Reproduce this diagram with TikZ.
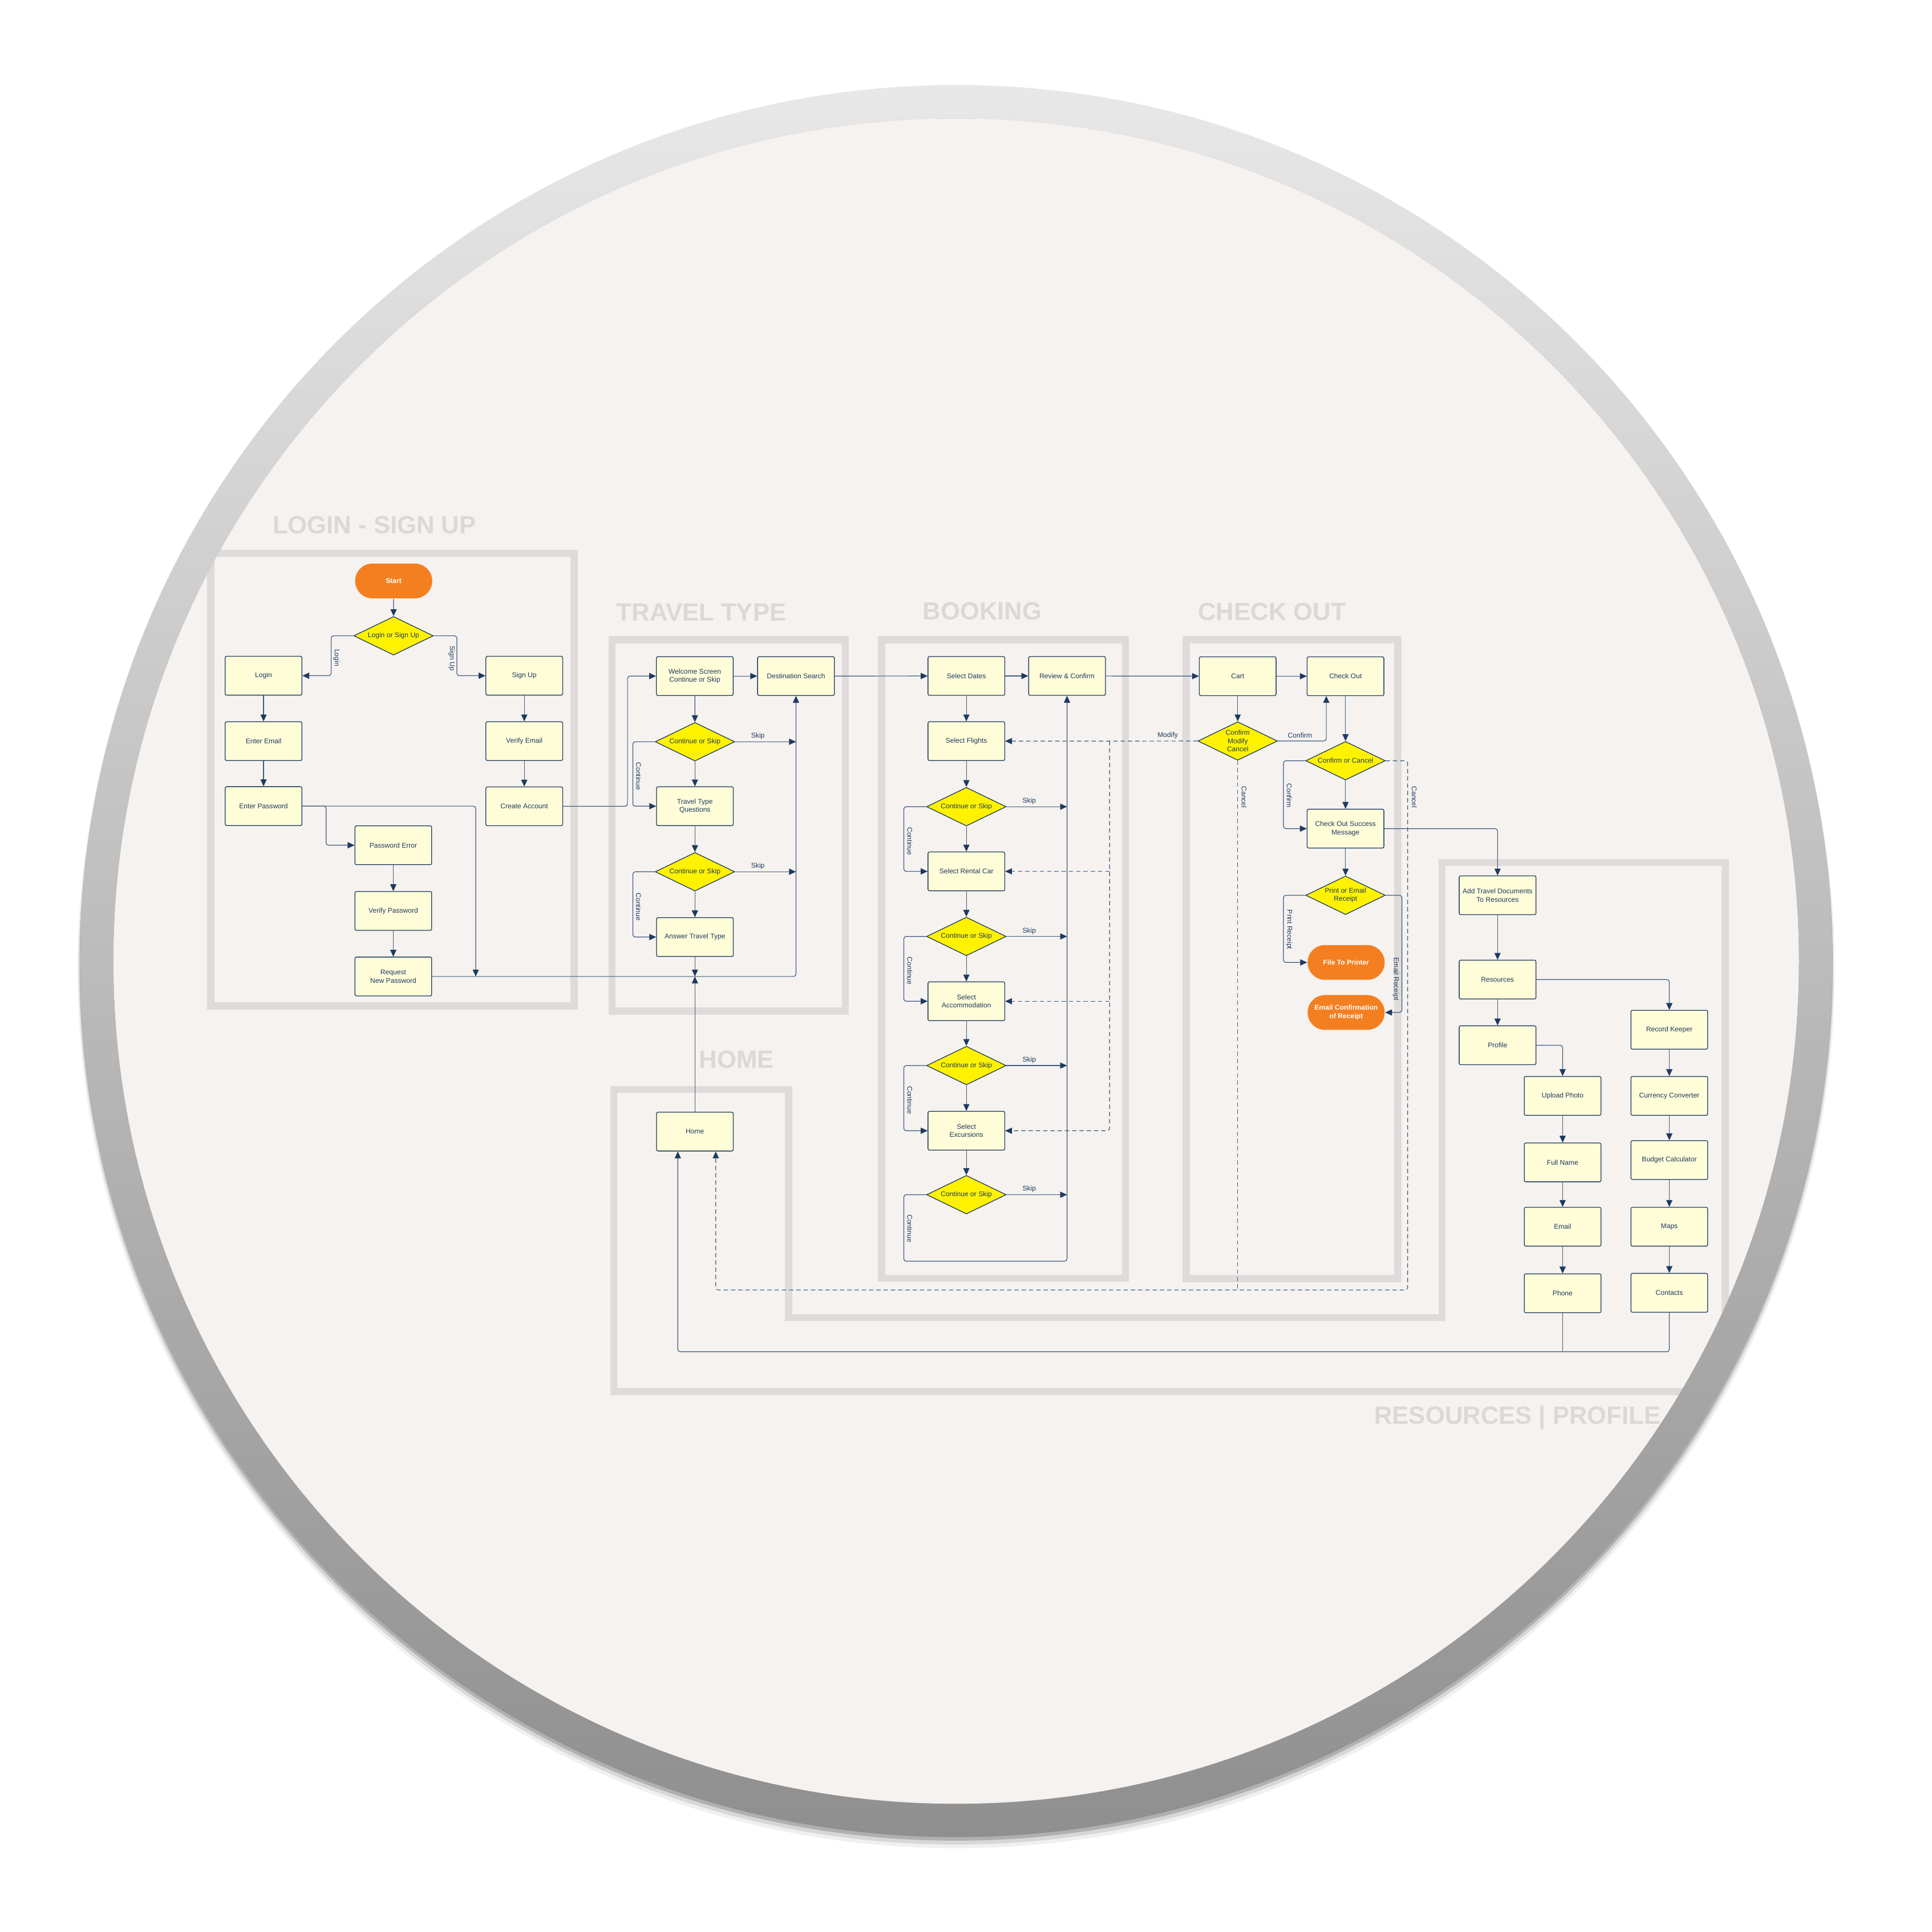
\documentclass[tikz,border=0pt]{standalone}
\usepackage{fontspec}
\setmainfont{Liberation Sans}
\usetikzlibrary{shapes.geometric,arrows.meta}
\definecolor{bginner}{HTML}{F5F2EF}
\definecolor{framec}{HTML}{DFDBDA}
\definecolor{titlec}{HTML}{DCD8D7}
\definecolor{boxf}{HTML}{FFFCD8}
\definecolor{diaf}{HTML}{FFF200}
\definecolor{navy}{HTML}{1F3A60}
\definecolor{linec}{HTML}{3D5A80}
\definecolor{orangec}{HTML}{F47F20}
\definecolor{ringtop}{HTML}{E8E8E8}
\definecolor{ringbot}{HTML}{8F8F8F}
\newcommand{\boxtxt}{\fontsize{2.8pt}{3.35pt}\selectfont}
\newcommand{\ttltxt}{\fontsize{10.1pt}{12pt}\selectfont\bfseries}
\begin{document}
\begin{tikzpicture}[x=0.5pt,y=-0.5pt,
 box/.style={draw=navy, fill=boxf, line width=0.3pt, rounded corners=0.6pt, minimum width=31.15pt, minimum height=15.75pt, inner sep=0pt, align=center, text=navy, font=\boxtxt},
 dia/.style={diamond, draw=navy, fill=diaf, line width=0.3pt, aspect=2.06, minimum width=32.25pt, minimum height=15.65pt, inner sep=0pt, align=center, text=navy, font=\boxtxt},
 term/.style={fill=orangec, rounded corners=7pt, minimum width=31.25pt, minimum height=14.1pt, inner sep=0pt, align=center, text=white, font=\boxtxt\bfseries},
 conn/.style={draw=linec, line width=0.28pt, rounded corners=1pt},
 arr/.style={conn, -{Triangle[length=2.8pt,width=2.5pt,color=navy]}},
 dsh/.style={conn, dash pattern=on 1.75pt off 1.2pt},
 dsharr/.style={dsh, -{Triangle[length=2.8pt,width=2.5pt,color=navy]}},
 lbl/.style={font=\boxtxt, text=navy, inner sep=0pt},
 vlbl/.style={lbl, rotate=-90},
 frame/.style={draw=framec, line width=2.9pt},
 ttl/.style={font=\ttltxt, text=titlec, anchor=west, inner sep=0pt}]
\useasboundingbox (0,0) rectangle (1568,1568);
\fill[white] (0,0) rectangle (1568,1568);
% shadow
\fill[black, opacity=0.06] (776,787) circle (356.5pt);
\fill[black, opacity=0.10] (776,785) circle (356pt);
\fill[black, opacity=0.18] (776,782.5) circle (355.7pt);
% inner disc
\fill[bginner] (776,780) circle (342pt);
\begin{scope}
\clip (776,780) circle (342pt);
% frames
\draw[frame] (171,449) rectangle (466,816.5);
\draw[frame] (496.7,519.3) rectangle (686,820.6);
\draw[frame] (715.4,519.3) rectangle (913.4,1037.5);
\draw[frame] (962.6,519.3) rectangle (1134.4,1037.8);
\draw[frame] (498.1,884.2) -- (640,884.2) -- (640,1069.5) -- (1170.4,1069.5) -- (1170.4,700) -- (1400.2,700) -- (1400.2,1129.3) -- (498.1,1129.3) -- cycle;
% titles
\node[ttl] (t1) at (221,426) {LOGIN - SIGN UP};
\node[ttl] (t2) at (500,497) {TRAVEL TYPE};
\node[ttl] (t3) at (748.5,496) {BOOKING};
\node[ttl] (t4) at (972,496.5) {CHECK OUT};
\node[ttl] (t5) at (567,860) {HOME};
\node[ttl] (t6) at (1115,1150.5) {RESOURCES | PROFILE};
% ---------- login / sign up
\node[term] (start) at (319.5,471.5) {Start};
\node[dia] (los) at (319.4,516) {Login or Sign Up};
\node[box] (login) at (213.9,548.4) {Login};
\node[box] (entemail) at (213.9,601.5) {Enter Email};
\node[box] (entpass) at (213.9,654.2) {Enter Password};
\node[box] (signup) at (425.5,548.4) {Sign Up};
\node[box] (vemail) at (425.5,601.5) {Verify Email};
\node[box] (create) at (425.5,654.4) {Create Account};
\node[box] (perr) at (319.2,686) {Password Error};
\node[box] (vpass) at (319.2,739.3) {Verify Password};
\node[box] (reqpw) at (319.2,792.5) {Request\\New Password};
% ---------- travel type
\node[box] (welcome) at (563.9,548.7) {Welcome Screen\\Continue or Skip};
\node[box] (dest) at (646,548.7) {Destination Search};
\node[dia] (tcs1) at (564,602) {Continue or Skip};
\node[box] (ttq) at (564,654.3) {Travel Type\\Questions};
\node[dia] (tcs2) at (564,707.5) {Continue or Skip};
\node[box] (att) at (564,760.5) {Answer Travel Type};
\node[box] (home) at (564,918.4) {Home};
% ---------- booking
\node[box] (sdates) at (784.3,548.6) {Select Dates};
\node[box] (review) at (866,548.6) {Review \& Confirm};
\node[box] (flights) at (784.3,601.5) {Select Flights};
\node[dia] (bcs1) at (784.3,654.7) {Continue or Skip};
\node[box] (car) at (784.3,707.2) {Select Rental Car};
\node[dia] (bcs2) at (784.3,760) {Continue or Skip};
\node[box] (acc) at (784.3,812.6) {Select\\Accommodation};
\node[dia] (bcs3) at (784.3,864.8) {Continue or Skip};
\node[box] (exc) at (784.3,917.7) {Select\\Excursions};
\node[dia] (bcs4) at (784.3,969.6) {Continue or Skip};
% ---------- check out
\node[box] (cart) at (1004.5,548.8) {Cart};
\node[box] (chk) at (1092,548.8) {Check Out};
\node[dia] (cmc) at (1004.5,601.4) {Confirm\\Modify\\Cancel};
\node[dia] (coc) at (1092,617.4) {Confirm or Cancel};
\node[box] (succ) at (1092,672.5) {Check Out Success\\Message};
\node[dia] (poe) at (1092,726.6) {Print or Email\\Receipt};
\node[term] (printer) at (1092.5,781.1) {File To Printer};
\node[term] (emailc) at (1092.5,821.7) {Email Confirmation\\of Receipt};
% ---------- resources / profile
\node[box] (addtd) at (1215.4,726.6) {Add Travel Documents\\To Resources};
\node[box] (res) at (1215.4,795) {Resources};
\node[box] (prof) at (1215.4,848.3) {Profile};
\node[box] (record) at (1354.8,835.7) {Record Keeper};
\node[box] (upload) at (1268.2,889.4) {Upload Photo};
\node[box] (fname) at (1268.2,943.4) {Full Name};
\node[box] (email2) at (1268.2,995.6) {Email};
\node[box] (phone) at (1268.2,1049.6) {Phone};
\node[box] (curr) at (1354.8,889.4) {Currency Converter};
\node[box] (budget) at (1354.8,941.5) {Budget Calculator};
\node[box] (maps) at (1354.8,995.6) {Maps};
\node[box] (contacts) at (1354.8,1049.2) {Contacts};
% ---------- coordinates
\coordinate (pwdrop) at (386.1,792.5);
\coordinate (ttmerge) at (564,792.5);
\coordinate (tskip) at (646,0);
\coordinate (bskip) at (866,0);
\coordinate (bret) at (866,1023.6);
\coordinate (dcorner) at (1142.4,1046.9);
\coordinate (dhome) at (580.9,1046.9);
\coordinate (mv) at (900.5,0);
\coordinate (hb) at (550.1,1097.1);
% ---------- login connectors
\draw[arr] (start) -- (los);
\draw[arr] (los.west) -- ++(-18.05,0) |- (login.east);
\draw[arr] (los.east) -- ++(18.85,0) |- (signup.west);
\draw[arr] (login) -- (entemail);
\draw[arr] (entemail) -- (entpass);
\draw[arr] (signup) -- (vemail);
\draw[arr] (vemail) -- (create);
\draw[arr] (perr) -- (vpass);
\draw[arr] (vpass) -- (reqpw);
\draw[arr] (entpass.east) -- ++(19.35,0) |- (perr.west);
\draw[arr] (entpass.east) -| (pwdrop);
\draw[arr] (reqpw.east) -| (dest.south);
\draw[arr] (create.east) -- ++(52.35,0) |- (welcome.west);
\node[vlbl] (lblogin) at (273.1,533.8) {Login};
\node[vlbl] (lbsignup) at (366.6,534.4) {Sign Up};
% ---------- travel connectors
\draw[arr] (welcome) -- (dest);
\draw[arr] (welcome) -- (tcs1);
\draw[arr] (tcs1) -- (ttq);
\draw[arr] (ttq) -- (tcs2);
\draw[arr] (tcs2) -- (att);
\draw[arr] (tcs1.west) -- ++(-17.85,0) |- (ttq.west);
\draw[arr] (tcs2.west) -- ++(-17.85,0) |- (att.west);
\draw[arr] (tcs1.east) -- (tcs1.east -| tskip);
\draw[arr] (tcs2.east) -- (tcs2.east -| tskip);
\draw[arr] (att.south) -- (ttmerge);
\draw[arr] (home.north) -- (ttmerge);
\node[lbl] (tsk1) at (615.1,597.5) {Skip};
\node[lbl] (tsk2) at (615.1,703) {Skip};
\node[vlbl] (tct1) at (518.2,630) {Continue};
\node[vlbl] (tct2) at (518.2,736) {Continue};
\draw[arr] (dest) -- (sdates);
% ---------- booking connectors
\draw[arr] (sdates) -- (review);
\draw[arr] (sdates) -- (flights);
\draw[arr] (flights) -- (bcs1);
\draw[arr] (bcs1) -- (car);
\draw[arr] (car) -- (bcs2);
\draw[arr] (bcs2) -- (acc);
\draw[arr] (acc) -- (bcs3);
\draw[arr] (bcs3) -- (exc);
\draw[arr] (exc) -- (bcs4);
\draw[arr] (bcs1.west) -- ++(-18.25,0) |- (car.west);
\draw[arr] (bcs2.west) -- ++(-18.25,0) |- (acc.west);
\draw[arr] (bcs3.west) -- ++(-18.25,0) |- (exc.west);
\draw[arr] (bcs4.west) -- ++(-18.25,0) |- (bret) -- (review.south);
\draw[arr] (bcs1.east) -- (bcs1.east -| bskip);
\draw[arr] (bcs2.east) -- (bcs2.east -| bskip);
\draw[arr] (bcs3.east) -- (bcs3.east -| bskip);
\draw[arr] (bcs4.east) -- (bcs4.east -| bskip);
\node[lbl] (bsk1) at (835.3,650.2) {Skip};
\node[lbl] (bsk2) at (835.3,755.5) {Skip};
\node[lbl] (bsk3) at (835.3,860.3) {Skip};
\node[lbl] (bsk4) at (835.3,965.1) {Skip};
\node[vlbl] (bct1) at (738.4,682.7) {Continue};
\node[vlbl] (bct2) at (738.4,788) {Continue};
\node[vlbl] (bct3) at (738.4,892.8) {Continue};
\node[vlbl] (bct4) at (738.4,997) {Continue};
\draw[arr] (review) -- (cart);
% ---------- check out connectors
\draw[arr] (cart) -- (chk);
\draw[arr] (cart) -- (cmc);
\draw[arr] (cmc.east) -| ([xshift=-7.8pt]chk.south);
\draw[arr] (chk) -- (coc);
\draw[arr] (coc) -- (succ);
\draw[arr] (coc.west) -- ++(-17.85,0) |- (succ.west);
\draw[arr] (succ) -- (poe);
\draw[arr] (poe.west) -- ++(-17.85,0) |- (printer.west);
\draw[arr] (poe.east) -- ++(13.25,0) |- (emailc.east);
\draw[arr] (succ.east) -| (addtd.north);
\draw[dsharr] (coc.east) -| (dcorner) -- (dhome) -- ([xshift=8.45pt]home.south);
\draw[dsh] (cmc.south) -- (cmc.south |- dcorner);
\draw[dsharr] (cmc.west) -- (flights.east);
\draw[dsharr] (cmc.west -| mv) |- (exc.east);
\draw[dsharr] (car.east -| mv) -- (car.east);
\draw[dsharr] (acc.east -| mv) -- (acc.east);
\node[lbl] (lmodify) at (947.7,596.9) {Modify};
\node[lbl] (lconf1) at (1055,596.9) {Confirm};
\node[vlbl] (lcancel1) at (1009.6,646.9) {Cancel};
\node[vlbl] (lconf2) at (1046.3,645.7) {Confirm};
\node[vlbl] (lcancel2) at (1147.8,646.9) {Cancel};
\node[vlbl] (lprint) at (1046.3,754.4) {Print Receipt};
\node[vlbl] (lemail) at (1132.7,794.5) {Email Receipt};
% ---------- resources connectors
\draw[arr] (addtd) -- (res);
\draw[arr] (res) -- (prof);
\draw[arr] (res.east) -| (record.north);
\draw[arr] (prof.east) -| (upload.north);
\draw[arr] (upload) -- (fname);
\draw[arr] (fname) -- (email2);
\draw[arr] (email2) -- (phone);
\draw[arr] (record) -- (curr);
\draw[arr] (curr) -- (budget);
\draw[arr] (budget) -- (maps);
\draw[arr] (maps) -- (contacts);
\draw[arr] (contacts.south) |- (hb) -- ([xshift=-6.95pt]home.south);
\draw[conn] (phone.south) -- (phone.south |- hb);
\end{scope}
% ring
\shade[even odd rule, top color=ringtop, bottom color=ringbot] (776,780) circle (355.5pt) (776,780) circle (342pt);
\end{tikzpicture}
\end{document}
